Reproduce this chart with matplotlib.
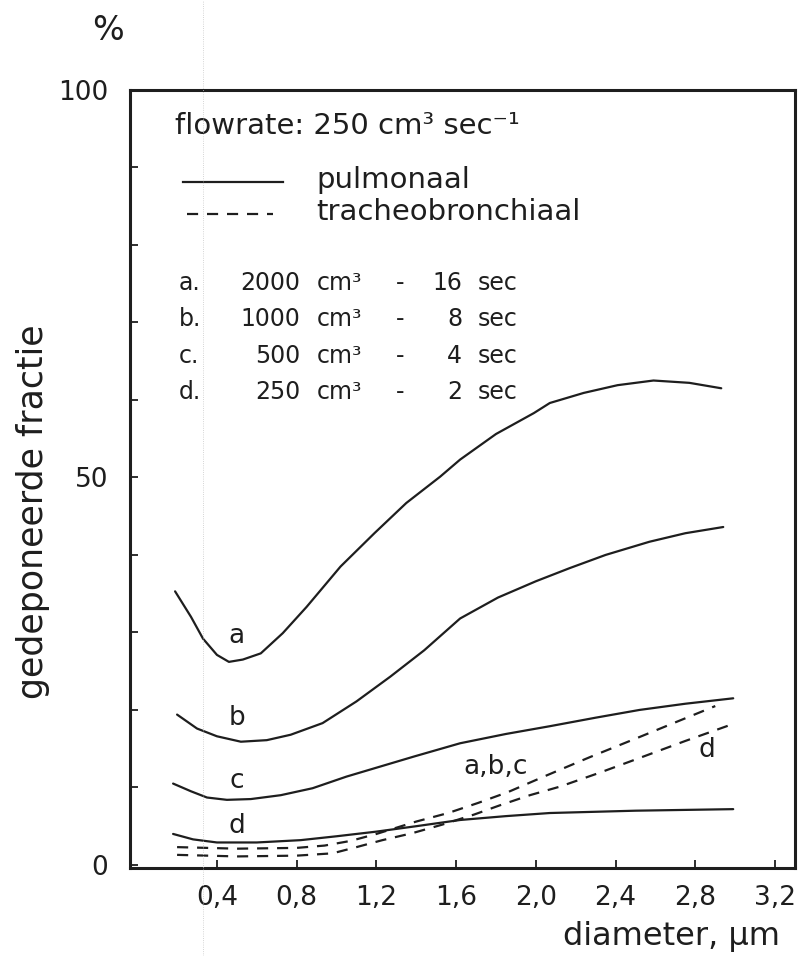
import numpy as np
import matplotlib
matplotlib.use('Agg')
import matplotlib.pyplot as plt
from matplotlib.lines import Line2D

# pulmonary deposition (solid)
xa = [0.19, 0.27, 0.33, 0.40, 0.46, 0.53, 0.62, 0.73, 0.85, 1.02, 1.19, 1.35, 1.52,
      1.62, 1.80, 1.99, 2.07, 2.24, 2.41, 2.59, 2.77, 2.93]
ya = [35.3, 32.0, 29.2, 27.1, 26.2, 26.5, 27.3, 29.9, 33.3, 38.5, 42.8, 46.7, 50.1,
      52.3, 55.6, 58.3, 59.6, 60.9, 61.9, 62.5, 62.2, 61.5]
xb = [0.20, 0.30, 0.40, 0.52, 0.65, 0.77, 0.93, 1.10, 1.27, 1.44, 1.62, 1.81, 2.00,
      2.17, 2.35, 2.57, 2.75, 2.94]
yb = [19.4, 17.6, 16.6, 15.9, 16.1, 16.8, 18.3, 21.1, 24.3, 27.7, 31.8, 34.5, 36.6,
      38.3, 40.0, 41.7, 42.8, 43.6]
xc = [0.18, 0.27, 0.35, 0.45, 0.57, 0.72, 0.88, 1.05, 1.22, 1.39, 1.62, 1.85, 2.07,
      2.30, 2.52, 2.75, 2.99]
yc = [10.5, 9.5, 8.7, 8.4, 8.5, 9.0, 9.9, 11.4, 12.7, 14.0, 15.7, 16.9, 17.9,
      19.0, 20.0, 20.8, 21.5]
xd = [0.18, 0.28, 0.40, 0.60, 0.82, 1.00, 1.20, 1.40, 1.62, 1.85, 2.07, 2.50, 2.99]
yd = [4.0, 3.3, 2.9, 2.9, 3.2, 3.7, 4.3, 5.0, 5.8, 6.3, 6.7, 7.0, 7.2]
# tracheobronchial deposition (dashed)
x_abc = [0.20, 0.50, 0.80, 0.94, 1.07, 1.20, 1.40, 1.56, 1.71, 1.86, 2.04, 2.27, 2.51,
         2.70, 2.90]
y_abc = [2.3, 2.1, 2.2, 2.5, 3.1, 4.0, 5.6, 6.7, 8.0, 9.4, 11.4, 13.9, 16.4, 18.4, 20.5]
x_tbd = [0.20, 0.50, 0.80, 0.98, 1.10, 1.23, 1.38, 1.53, 1.69, 1.82, 1.97, 2.12, 2.32,
         2.52, 2.75, 2.99]
y_tbd = [1.3, 1.1, 1.2, 1.5, 2.3, 3.2, 4.1, 5.2, 6.5, 7.7, 9.0, 10.1, 11.9, 13.8,
         16.0, 18.2]

xticks = [0.4, 0.8, 1.2, 1.6, 2.0, 2.4, 2.8, 3.2]
xticklabels = ['0,4', '0,8', '1,2', '1,6', '2,0', '2,4', '2,8', '3,2']
yticks = list(range(0, 101, 10))
yticklabels = ['0', '', '', '', '', '50', '', '', '', '', '100']

letters = ['a.', 'b.', 'c.', 'd.']
volumes = ['2000', '1000', '500', '250']
times = ['16', '8', '4', '2']

INK = '#1e1e1e'
DASH = (0, (5, 4))
fig = plt.figure(figsize=(7.99, 9.56), dpi=100)
ax = fig.add_axes([0.163, 0.092, 0.832, 0.814])

for x, y in [(xa, ya), (xb, yb), (xc, yc), (xd, yd)]:
    ax.plot(x, y, color=INK, lw=1.6, solid_capstyle='round', solid_joinstyle='round')
for x, y in [(x_abc, y_abc), (x_tbd, y_tbd)]:
    ax.plot(x, y, color=INK, lw=1.6, ls=DASH)

# curve labels
fs = 19
for lab, y in zip(['a', 'b', 'c', 'd'], [29.6, 18.9, 10.8, 5.0]):
    ax.text(0.50, y, lab, fontsize=fs, color=INK, ha='center', va='center')
ax.text(1.80, 12.6, 'a,b,c', fontsize=fs, color=INK, ha='center', va='center')
ax.text(2.86, 14.8, 'd', fontsize=fs, color=INK, ha='center', va='center')

# legend block (hand-written)
ax.text(0.19, 95.4, 'flowrate: 250 cm³ sec⁻¹', fontsize=21, color=INK, va='center')
ax.plot([0.23, 0.73], [88.1, 88.1], color=INK, lw=1.6)
ax.plot([0.25, 0.68], [84.0, 84.0], color=INK, lw=1.6, ls=DASH)
ax.text(0.90, 88.4, 'pulmonaal', fontsize=21, color=INK, va='center')
ax.text(0.90, 84.2, 'tracheobronchiaal', fontsize=21, color=INK, va='center')
for i, (l, v, t) in enumerate(zip(letters, volumes, times)):
    yy = 75.1 - i * 4.7
    ax.text(0.21, yy, l, fontsize=17, color=INK, va='center')
    ax.text(0.82, yy, v, fontsize=17, color=INK, va='center', ha='right')
    ax.text(0.90, yy, 'cm³', fontsize=17, color=INK, va='center')
    ax.text(1.30, yy, '-', fontsize=17, color=INK, va='center')
    ax.text(1.63, yy, t, fontsize=17, color=INK, va='center', ha='right')
    ax.text(1.71, yy, 'sec', fontsize=17, color=INK, va='center')

ax.set_xlim(-0.035, 3.30)
ax.set_ylim(-0.4, 100)
ax.set_xticks(xticks)
ax.set_xticklabels(xticklabels, fontsize=19, color=INK)
ax.set_yticks(yticks)
ax.set_yticklabels(yticklabels, fontsize=19, color=INK)
ax.tick_params(axis='both', direction='in', length=6, width=1.3, color=INK)
ax.tick_params(axis='x', pad=12)
ax.tick_params(axis='y', pad=16)
for s in ax.spines.values():
    s.set_linewidth(2.2)
    s.set_color(INK)

fig.text(780 / 799, 1 - 937 / 956, 'diameter, µm', fontsize=23, color=INK,
         ha='right', va='center')
fig.text(33 / 799, 1 - 512 / 956, 'gedeponeerde fractie', fontsize=25, color=INK,
         ha='center', va='center', rotation=90)
fig.text(0.135, 0.968, '%', fontsize=24, color=INK, ha='center', va='center')

# faint scan line
fig.add_artist(Line2D([203 / 799, 203 / 799], [0, 1], color='0.78', lw=0.6, ls=':'))

fig.savefig('out.png', dpi=100)
